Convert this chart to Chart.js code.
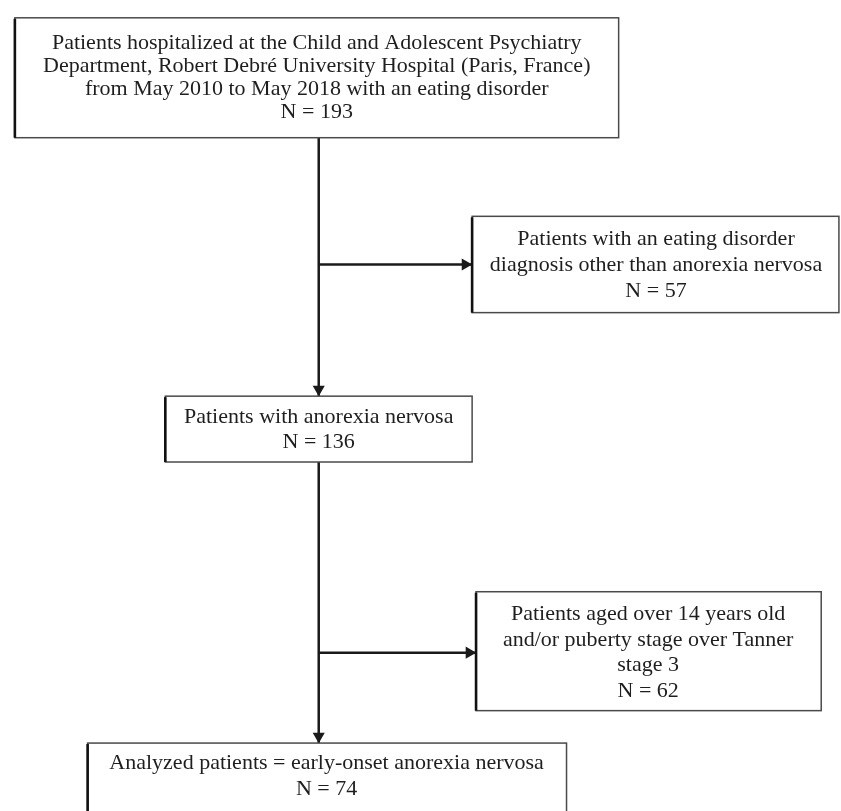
<!DOCTYPE html>
<html>
<head>
<meta charset="utf-8">
<script src="https://cdn.jsdelivr.net/npm/chart.js@4.4.1/dist/chart.umd.min.js"></script>
<style>
  html, body { margin: 0; padding: 0; background: #fff; }
  #wrap { width: 841px; height: 811px; }
</style>
</head>
<body>
<div id="wrap"><canvas id="flow" width="841" height="811"></canvas></div>
<script>
// flowchart contents (one entry per box, top to bottom)
var stageLabels = [
  ['Patients hospitalized at the Child and Adolescent Psychiatry',
   'Department, Robert Debré University Hospital (Paris, France)',
   'from May 2010 to May 2018 with an eating disorder'],
  ['Patients with an eating disorder',
   'diagnosis other than anorexia nervosa'],
  ['Patients with anorexia nervosa'],
  ['Patients aged over 14 years old',
   'and/or puberty stage over Tanner',
   'stage 3'],
  ['Analyzed patients = early-onset anorexia nervosa']
];
var stageCounts = [193, 57, 136, 62, 74];

// box geometry in chart units (x0, y0, x1, y1), text centre and line step
var boxes = [
  {x0: 8,   y0: 11,  x1: 622, y1: 133, cx: 315, ty: 37,  step: 23.5},
  {x0: 473, y0: 213, x1: 846, y1: 311, cx: 660, ty: 236, step: 26.5},
  {x0: 161, y0: 396, x1: 473, y1: 463, cx: 317, ty: 417, step: 26},
  {x0: 477, y0: 595, x1: 828, y1: 716, cx: 652, ty: 618, step: 26},
  {x0: 82,  y0: 749, x1: 569, y1: 840, cx: 325, ty: 770, step: 26}
];
var trunkX = 317;
var arrowR = 7;

// connectors: trunk box0->box2, branch ->box1, trunk box2->box4, branch ->box3
var links = [
  {from: [trunkX, boxes[0].y1], to: [trunkX, boxes[2].y0], dir: 'down'},
  {from: [trunkX, 262], to: [boxes[1].x0, 262], dir: 'right'},
  {from: [trunkX, boxes[2].y1], to: [trunkX, boxes[4].y0], dir: 'down'},
  {from: [trunkX, 657], to: [boxes[3].x0, 657], dir: 'right'}
];

var lineSets = links.map(function(l) {
  return {
    type: 'scatter',
    data: [{x: l.from[0], y: l.from[1]}, {x: l.to[0], y: l.to[1]}],
    showLine: true,
    borderColor: '#1a1a1a',
    borderWidth: 2.5,
    pointRadius: 0
  };
});

var heads = links.map(function(l) {
  if (l.dir == 'down') return {x: l.to[0], y: l.to[1] - arrowR};
  return {x: l.to[0] - arrowR, y: l.to[1]};
});

var headSet = {
  type: 'scatter',
  data: heads,
  pointStyle: 'triangle',
  pointRadius: arrowR,
  rotation: links.map(function(l) { return l.dir == 'down' ? 180 : 90; }),
  backgroundColor: '#1a1a1a',
  borderColor: '#1a1a1a',
  borderWidth: 0
};

var boxPlugin = {
  id: 'boxes',
  afterDatasetsDraw: function(chart) {
    var ctx = chart.ctx;
    var xs = chart.scales.x, ys = chart.scales.y;
    ctx.save();
    boxes.forEach(function(b, i) {
      var x0 = xs.getPixelForValue(b.x0), x1 = xs.getPixelForValue(b.x1);
      var y0 = ys.getPixelForValue(b.y0), y1 = ys.getPixelForValue(b.y1);
      ctx.fillStyle = '#fff';
      ctx.fillRect(x0, y0, x1 - x0, y1 - y0);
      ctx.strokeStyle = '#4a4a4a';
      ctx.lineWidth = 1.5;
      ctx.strokeRect(x0, y0, x1 - x0, y1 - y0);
      // scanned look: left edge heavier
      ctx.strokeStyle = '#111';
      ctx.lineWidth = 2.6;
      ctx.beginPath();
      ctx.moveTo(x0, y0 + 1);
      ctx.lineTo(x0, y1);
      ctx.stroke();

      var lines = stageLabels[i].concat(['N = ' + stageCounts[i]]);
      ctx.fillStyle = '#1e1e1e';
      ctx.font = '22px "Liberation Serif", "Times New Roman", serif';
      ctx.textAlign = 'center';
      ctx.textBaseline = 'middle';
      lines.forEach(function(t, k) {
        ctx.fillText(t, xs.getPixelForValue(b.cx), ys.getPixelForValue(b.ty + k * b.step));
      });
    });
    ctx.restore();
  }
};

new Chart(document.getElementById('flow'), {
  type: 'scatter',
  data: { datasets: lineSets.concat([headSet]) },
  options: {
    responsive: false,
    animation: false,
    devicePixelRatio: 1,
    layout: { padding: 0 },
    scales: {
      x: { type: 'linear', min: 0, max: 841, display: false },
      y: { type: 'linear', min: 0, max: 811, reverse: true, display: false }
    },
    plugins: {
      legend: { display: false },
      tooltip: { enabled: false }
    }
  },
  plugins: [boxPlugin]
});
</script>
</body>
</html>
